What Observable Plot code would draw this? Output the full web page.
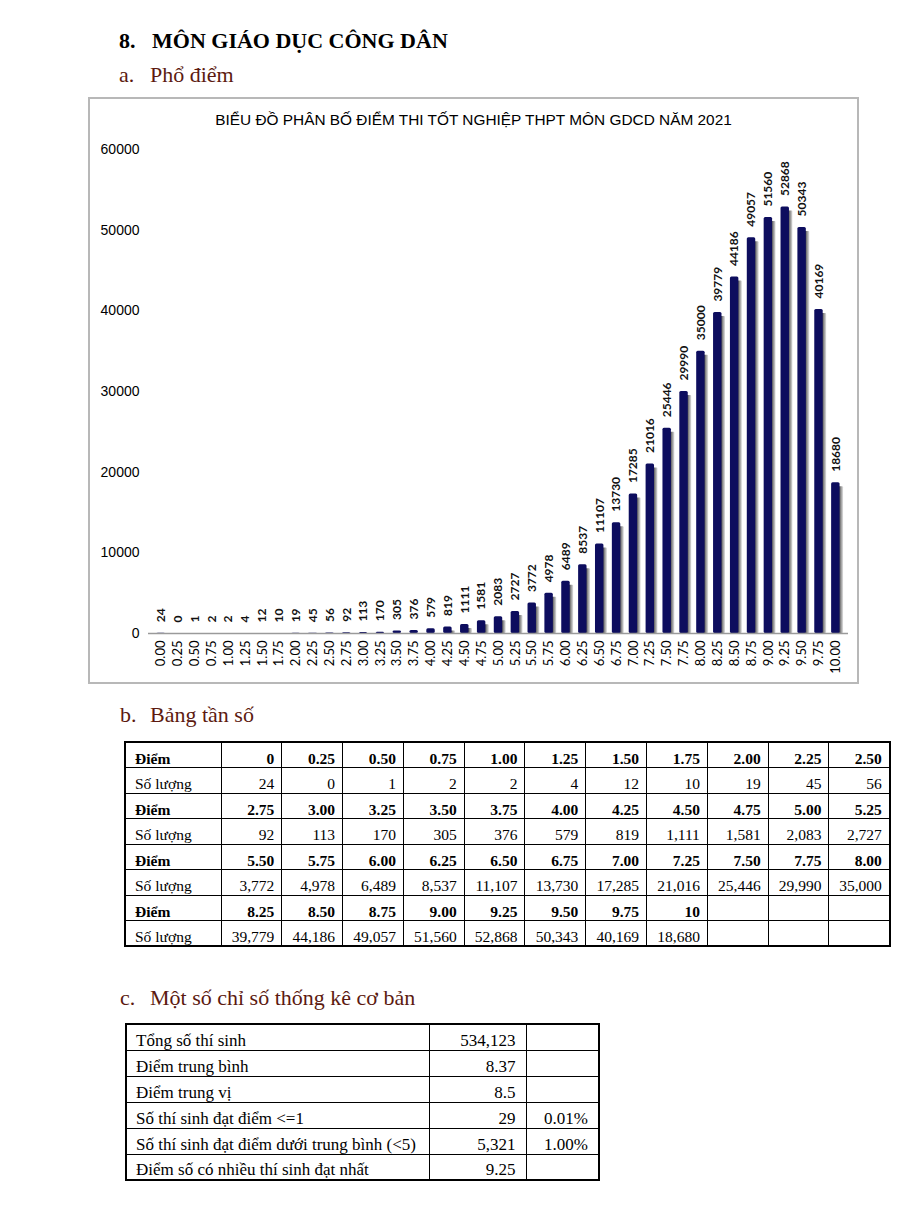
<!DOCTYPE html>
<html><head><meta charset="utf-8">
<script src="https://cdn.jsdelivr.net/npm/d3@7"></script>
<script src="https://cdn.jsdelivr.net/npm/@observablehq/plot@0.6"></script>
<style>
html,body{margin:0;padding:0;background:#fff;}
body{width:900px;height:1227px;position:relative;overflow:hidden;font-family:"Liberation Serif","Times New Roman",serif;color:#000;}
.h{position:absolute;white-space:nowrap;line-height:1;font-size:22px;}
.h1{font-weight:bold;color:#000;}
.h2{color:#5c1a10;}
#frame{position:absolute;left:88px;top:97px;width:771px;height:587px;box-sizing:border-box;border:2px solid #b8b8b8;}
#plot{position:absolute;left:88px;top:97px;width:771px;height:587px;}
#ctitle{position:absolute;left:88px;top:112px;width:771px;text-align:center;font-family:"Liberation Sans",Arial,sans-serif;font-size:15.4px;line-height:1;white-space:nowrap;}
table{position:absolute;border-collapse:collapse;table-layout:fixed;border:2.5px solid #000;}
td{border:1.5px solid #000;font-size:15.5px;line-height:1;vertical-align:bottom;padding:0 7px 1px 9px;white-space:nowrap;overflow:hidden;}
td.r{text-align:right;}
tr.b td{font-weight:bold;}
#freq{left:124px;top:741px;width:765px;}
#freq td{height:25.5px;box-sizing:border-box;}
#stats{left:125px;top:1023px;width:473px;}
#stats td{height:26px;box-sizing:border-box;padding-right:10px;font-size:17px;}
</style>
</head><body>
<div class="h h1" style="left:119px;top:29.6px">8.</div>
<div class="h h1" style="left:152px;top:29.6px">MÔN GIÁO DỤC CÔNG DÂN</div>
<div class="h h2" style="left:119px;top:63.6px">a.</div>
<div class="h h2" style="left:150px;top:63.6px">Phổ điểm</div>
<div id="frame"></div>
<div id="plot"></div>
<div id="ctitle"></div>
<div class="h h2" style="left:120px;top:703.6px">b.</div>
<div class="h h2" style="left:150px;top:703.6px">Bảng tần số</div>
<table id="freq"></table>
<div class="h h2" style="left:120px;top:986.6px">c.</div>
<div class="h h2" style="left:150px;top:986.6px">Một số chỉ số thống kê cơ bản</div>
<table id="stats"></table>
<script>
// ---- data ----
const chartTitle = "BIỂU ĐỒ PHÂN BỐ ĐIỂM THI TỐT NGHIỆP THPT MÔN GDCD NĂM 2021";
const scoreLabels = ["0.00","0.25","0.50","0.75","1.00","1.25","1.50","1.75","2.00","2.25","2.50","2.75","3.00","3.25","3.50","3.75","4.00","4.25","4.50","4.75","5.00","5.25","5.50","5.75","6.00","6.25","6.50","6.75","7.00","7.25","7.50","7.75","8.00","8.25","8.50","8.75","9.00","9.25","9.50","9.75","10.00"];
const counts = [24,0,1,2,2,4,12,10,19,45,56,92,113,170,305,376,579,819,1111,1581,2083,2727,3772,4978,6489,8537,11107,13730,17285,21016,25446,29990,35000,39779,44186,49057,51560,52868,50343,40169,18680];
const yTicks = [0,10000,20000,30000,40000,50000,60000];
const tableScoreLabels = ["0","0.25","0.50","0.75","1.00","1.25","1.50","1.75","2.00","2.25","2.50","2.75","3.00","3.25","3.50","3.75","4.00","4.25","4.50","4.75","5.00","5.25","5.50","5.75","6.00","6.25","6.50","6.75","7.00","7.25","7.50","7.75","8.00","8.25","8.50","8.75","9.00","9.25","9.50","9.75","10"];
const rowLabelScore = "Điểm";
const rowLabelCount = "Số lượng";
const statLabels = ["Tổng số thí sinh","Điểm trung bình","Điểm trung vị","Số thí sinh đạt điểm <=1","Số thí sinh đạt điểm dưới trung bình (<5)","Điểm số có nhiều thí sinh đạt nhất"];
const statValues = ["534,123","8.37","8.5","29","5,321","9.25"];
const statPercents = ["","","","0.01%","1.00%",""];

// ---- chart ----
const data = scoreLabels.map((s, i) => ({score: s, count: counts[i]}));
const chart = Plot.plot({
  width: 771, height: 587,
  marginLeft: 60, marginRight: 11, marginTop: 52, marginBottom: 51,
  style: {background: "transparent", fontFamily: "Lato, sans-serif", fontSize: "12px", color: "#000", overflow: "visible"},
  x: {type: "band", domain: scoreLabels, padding: 0.5, axis: null},
  y: {domain: [0, 60000], axis: null},
  marks: [
    () => {
      const defs = d3.create("svg:defs");
      const lg = defs.append("linearGradient").attr("id", "shadowGrad")
        .attr("x1", 0).attr("x2", 1).attr("y1", 0).attr("y2", 0);
      lg.append("stop").attr("offset", "0%").attr("stop-color", "#333");
      lg.append("stop").attr("offset", "55%").attr("stop-color", "#555");
      lg.append("stop").attr("offset", "100%").attr("stop-color", "#e2e2e2");
      return defs.node();
    },
    Plot.barY(data, {filter: d => d.count >= 700, x: "score", y: "count", fill: "url(#shadowGrad)", dx: 3.5, dy: 4, insetBottom: 4, rx: 1}),
    Plot.barY(data, {x: "score", y: "count", fill: "#0d0d5e", rx: 1.5}),
    Plot.ruleY([0], {stroke: "#9a9a9a", strokeWidth: 1.5}),
    Plot.text(data, {x: "score", y: "count", text: d => String(d.count), rotate: -90, textAnchor: "start", dy: -11, fontWeight: "bold", fontSize: 12, fill: "#111"}),
    Plot.axisX({tickRotate: -90, tickSize: 0, tickPadding: 7, fontSize: 13, label: null}),
    Plot.axisY({ticks: yTicks, tickSize: 0, tickPadding: 9, tickFormat: d => String(d), fontSize: 14, fontFamily: "Liberation Sans, Arial, sans-serif", label: null})
  ]
});
document.getElementById("plot").append(chart);
document.getElementById("ctitle").textContent = chartTitle;

// ---- frequency table ----
const fmt = d3.format(",");
const freq = d3.select("#freq");
const cg = freq.append("colgroup");
cg.append("col").style("width", "96px");
for (let j = 0; j < 11; j++) cg.append("col").style("width", "60.8px");
for (let g = 0; g < Math.ceil(tableScoreLabels.length / 11); g++) {
  const s = tableScoreLabels.slice(g * 11, g * 11 + 11);
  const c = counts.slice(g * 11, g * 11 + 11);
  const r1 = freq.append("tr").attr("class", "b");
  r1.append("td").text(rowLabelScore);
  const r2 = freq.append("tr");
  r2.append("td").text(rowLabelCount);
  for (let j = 0; j < 11; j++) {
    r1.append("td").attr("class", "r").text(j < s.length ? s[j] : "");
    r2.append("td").attr("class", "r").text(j < c.length ? fmt(c[j]) : "");
  }
}

// ---- stats table ----
const st = d3.select("#stats");
const cg2 = st.append("colgroup");
cg2.append("col").style("width", "303px");
cg2.append("col").style("width", "97px");
cg2.append("col").style("width", "73px");
statLabels.forEach((l, i) => {
  const r = st.append("tr");
  r.append("td").text(l);
  r.append("td").attr("class", "r").text(statValues[i]);
  r.append("td").attr("class", "r").text(statPercents[i]);
});
</script>
</body></html>
